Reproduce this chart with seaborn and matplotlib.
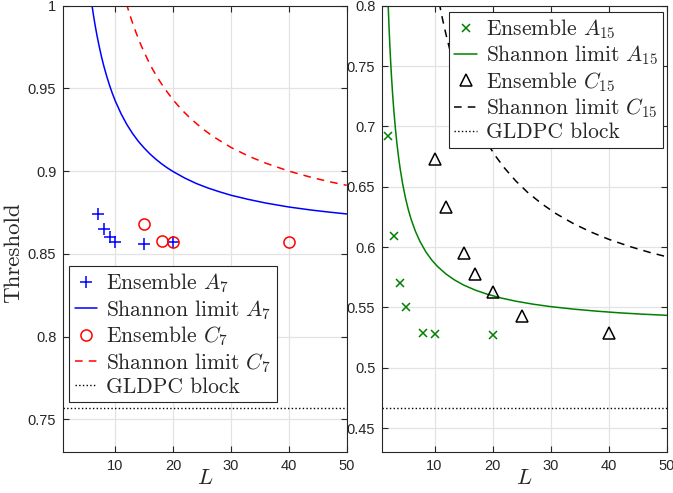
import matplotlib
matplotlib.use("Agg")
import matplotlib.pyplot as plt
import seaborn as sns
import pandas as pd

# ---------------- data ----------------
# Left panel
ens_A7_L = [7, 8, 9, 10, 15, 20]
ens_A7_thr = [0.874, 0.865, 0.860, 0.857, 0.856, 0.857]
ens_C7_L = [15, 18, 20, 40]
ens_C7_thr = [0.868, 0.858, 0.857, 0.857]
sh_A7_L = [5.9, 6.2, 6.5, 6.8, 7.2, 7.6, 8, 8.5, 9, 9.5, 10, 11, 12, 13, 14, 15, 16, 17, 18,
           19, 20, 22, 24, 26, 28, 30, 33, 36, 40, 44, 47, 50]
sh_A7_thr = [1.0016, 0.9946, 0.9882, 0.9824, 0.9755, 0.9692, 0.9636, 0.9574, 0.9518, 0.9468,
             0.9423, 0.9346, 0.9281, 0.9226, 0.9179, 0.9139, 0.9103, 0.9072, 0.9044, 0.9019,
             0.8997, 0.8958, 0.8925, 0.8898, 0.8875, 0.8854, 0.8829, 0.8807, 0.8783, 0.8764,
             0.8752, 0.8741]
sh_C7_L = [11.9, 12.3, 12.7, 13.2, 13.7, 14.3, 15, 15.7, 16.5, 17.5, 18.5, 20, 21.5, 23, 25,
           27, 30, 33, 36, 40, 44, 47, 50]
sh_C7_thr = [1.0015, 0.9968, 0.9924, 0.9873, 0.9826, 0.9773, 0.9717, 0.9666, 0.9612, 0.9553,
             0.9500, 0.9430, 0.9370, 0.9318, 0.9258, 0.9207, 0.9143, 0.9091, 0.9048, 0.9000,
             0.8961, 0.8936, 0.8914]
gldpc_7 = 0.757

# Right panel
ens_A15_L = [2, 3, 4, 5, 8, 10, 20]
ens_A15_thr = [0.692, 0.609, 0.570, 0.550, 0.529, 0.528, 0.527]
ens_C15_L = [10, 12, 15, 17, 20, 25, 40]
ens_C15_thr = [0.673, 0.633, 0.595, 0.578, 0.563, 0.543, 0.529]
sh_A15_L = [2, 2.15, 2.3, 2.45, 2.6, 2.8, 3, 3.25, 3.5, 3.8, 4.1, 4.5, 5, 5.5, 6, 6.7, 7.5,
            8.5, 9.5, 10.5, 12, 13.5, 15, 17, 19, 21.5, 24, 27, 30, 34, 38, 42, 46, 50]
sh_A15_thr = [0.8022, 0.7834, 0.7671, 0.7527, 0.7400, 0.7252, 0.7124, 0.6985, 0.6867, 0.6745,
              0.6642, 0.6525, 0.6405, 0.6307, 0.6225, 0.6132, 0.6046, 0.5961, 0.5894, 0.5840,
              0.5776, 0.5726, 0.5686, 0.5644, 0.5611, 0.5578, 0.5552, 0.5527, 0.5507, 0.5486,
              0.5469, 0.5455, 0.5444, 0.5435]
sh_C15_L = [10.8, 11.2, 11.6, 12.1, 12.6, 13.2, 13.9, 14.7, 15.6, 16.6, 17.8, 19, 20.5, 22,
            24, 26, 28.5, 31, 34, 37, 40, 43.5, 47, 50]
sh_C15_thr = [0.8025, 0.7929, 0.7840, 0.7737, 0.7642, 0.7537, 0.7426, 0.7313, 0.7199, 0.7087,
              0.6969, 0.6866, 0.6755, 0.6658, 0.6548, 0.6455, 0.6358, 0.6275, 0.6193, 0.6124,
              0.6065, 0.6007, 0.5957, 0.5920]
gldpc_15 = 0.467

x_ticks = [10, 20, 30, 40, 50]
y_ticks_left = [0.75, 0.8, 0.85, 0.9, 0.95, 1.0]
y_ticks_right = [0.45, 0.5, 0.55, 0.6, 0.65, 0.7, 0.75, 0.8]

# ---------------- style ----------------
sns.set_theme(style="white")
plt.rcParams["mathtext.fontset"] = "cm"
plt.rcParams["font.family"] = ["Liberation Sans", "DejaVu Sans"]
plt.rcParams["axes.unicode_minus"] = False

TXT = "#262626"
GRID = "#e3e3e3"

fig = plt.figure(figsize=(6.73, 4.93), dpi=100)
axL = fig.add_axes([63.3 / 673, 1 - 452.3 / 493, (346.7 - 63.3) / 673, (452.3 - 5.7) / 493])
axR = fig.add_axes([382.3 / 673, 1 - 452.3 / 493, (666.7 - 382.3) / 673, (452.3 - 5.7) / 493])

BLUE = "#0000ff"
RED = "#ff0000"
GREEN = "#008000"
BLACK = "#000000"


def draw_line(ax, xs, ys, color, ls, label, lw=1.1, dashes=None):
    df = pd.DataFrame({"L": xs, "thr": ys})
    sns.lineplot(data=df, x="L", y="thr", ax=ax, color=color, linestyle=ls, lw=lw,
                 label=label, estimator=None, sort=False)
    if dashes is not None:
        ax.lines[-1].set_dashes(dashes)


def draw_markers(ax, xs, ys, marker, color, ms, label, mew=1.1):
    df = pd.DataFrame({"L": xs, "thr": ys})
    sns.lineplot(data=df, x="L", y="thr", ax=ax, marker=marker, linestyle="",
                 markersize=ms, markeredgewidth=mew, markeredgecolor=color,
                 markerfacecolor="none", color=color, label=label,
                 estimator=None, sort=False)


# Left panel
draw_markers(axL, ens_A7_L, ens_A7_thr, "+", BLUE, 8, r"Ensemble $A_7$")
draw_line(axL, sh_A7_L, sh_A7_thr, BLUE, "-", r"Shannon limit $A_7$")
draw_markers(axL, ens_C7_L, ens_C7_thr, "o", RED, 8, r"Ensemble $C_7$")
draw_line(axL, sh_C7_L, sh_C7_thr, RED, "--", r"Shannon limit $C_7$", dashes=(5, 4))
draw_line(axL, [1, 50], [gldpc_7, gldpc_7], BLACK, ":", "GLDPC block", lw=1.0)

# Right panel
draw_markers(axR, ens_A15_L, ens_A15_thr, "x", GREEN, 5.5, r"Ensemble $A_{15}$")
draw_line(axR, sh_A15_L, sh_A15_thr, GREEN, "-", r"Shannon limit $A_{15}$")
draw_markers(axR, ens_C15_L, ens_C15_thr, "^", BLACK, 9, r"Ensemble $C_{15}$")
draw_line(axR, sh_C15_L, sh_C15_thr, BLACK, "--", r"Shannon limit $C_{15}$", dashes=(5, 4))
draw_line(axR, [1, 50], [gldpc_15, gldpc_15], BLACK, ":", "GLDPC block", lw=1.0)


def fmt(v):
    return f"{v:g}"


for ax, yt, ylim in ((axL, y_ticks_left, (0.73, 1.0)), (axR, y_ticks_right, (0.43, 0.8))):
    ax.set_xlim(1, 50)
    ax.set_ylim(*ylim)
    ax.set_xticks(x_ticks)
    ax.set_xticklabels([fmt(v) for v in x_ticks])
    ax.set_yticks(yt)
    ax.set_yticklabels([fmt(v) for v in yt])
    ax.grid(True, color=GRID, lw=0.9)
    ax.set_axisbelow(True)
    for s in ax.spines.values():
        s.set_visible(True)
        s.set_color(TXT)
        s.set_linewidth(0.8)
    ax.tick_params(direction="in", length=4, width=0.8, color=TXT, labelcolor=TXT,
                   labelsize=10.5, top=True, right=True, bottom=True, left=True, pad=5)
    ax.set_xlabel(r"$L$", fontsize=16, color=TXT, labelpad=-4)
    ax.set_ylabel("")

axL.set_ylabel("Threshold", fontsize=16.5, color=TXT, family="cmr10")
axL.yaxis.set_label_coords(-0.142, 0.447)

leg_kw = dict(borderaxespad=0, prop={"family": "cmr10", "size": 15.5}, frameon=True,
              fancybox=False, framealpha=1, edgecolor=TXT, handlelength=1.05,
              handletextpad=0.4, labelspacing=0.13, borderpad=0.25)
legL = axL.legend(loc="lower left", bbox_to_anchor=(0.021, 0.112), **leg_kw)
legR = axR.legend(loc="upper right", bbox_to_anchor=(0.988, 0.9866), **leg_kw)
for leg in (legL, legR):
    leg.get_frame().set_linewidth(0.8)

fig.savefig("out.png", dpi=100)
